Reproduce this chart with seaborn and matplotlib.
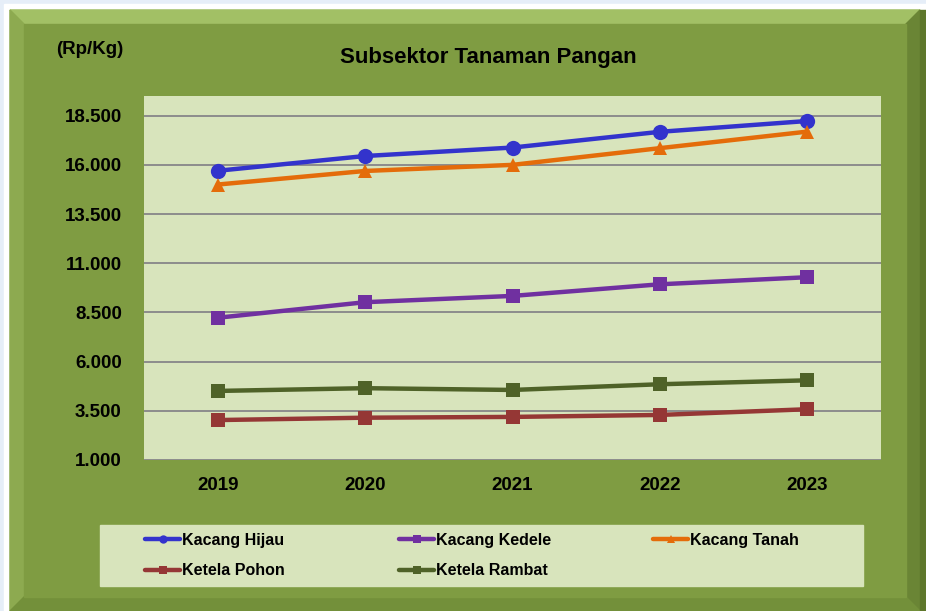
import numpy as np
import pandas as pd
import seaborn as sns
import matplotlib.pyplot as plt
from matplotlib.patches import Rectangle, Polygon
from matplotlib.lines import Line2D
from matplotlib.ticker import FuncFormatter

# ------------------------------------------------------------
# Data (Rp/Kg)
# ------------------------------------------------------------
years = ["2019", "2020", "2021", "2022", "2023"]
kacang_hijau = [15700, 16450, 16880, 17680, 18230]
kacang_kedele = [8230, 9020, 9340, 9930, 10290]
kacang_tanah = [15000, 15690, 16000, 16850, 17690]
ketela_pohon = [3030, 3150, 3190, 3290, 3580]
ketela_rambat = [4510, 4650, 4560, 4850, 5050]

series_names = ["Kacang Hijau", "Kacang Kedele", "Kacang Tanah", "Ketela Pohon", "Ketela Rambat"]
y_ticks = [1000, 3500, 6000, 8500, 11000, 13500, 16000, 18500]

colors = {
    "Kacang Hijau": "#3333CC",
    "Kacang Kedele": "#7030A0",
    "Kacang Tanah": "#E46C0A",
    "Ketela Pohon": "#953735",
    "Ketela Rambat": "#4F6228",
}
markers = {
    "Kacang Hijau": "o",
    "Kacang Kedele": "s",
    "Kacang Tanah": "^",
    "Ketela Pohon": "s",
    "Ketela Rambat": "s",
}
msizes = {"o": 11, "s": 9.5, "^": 10.5}

df = pd.DataFrame({
    "Tahun": years * 5,
    "Harga": kacang_hijau + kacang_kedele + kacang_tanah + ketela_pohon + ketela_rambat,
    "Komoditas": [n for n in series_names for _ in years],
})

sns.set_theme(style="white")
plt.rcParams["font.family"] = ["Liberation Sans", "DejaVu Sans"]
plt.rcParams["text.color"] = "black"

W, H = 926, 611
fig = plt.figure(figsize=(W / 100, H / 100), dpi=100)
fig.patch.set_facecolor("white")

# ------------------------------------------------------------
# Green bevelled frame
# ------------------------------------------------------------
bg = fig.add_axes([0, 0, 1, 1])
bg.set_xlim(0, W)
bg.set_ylim(H, 0)
bg.axis("off")
bg.add_patch(Rectangle((0, 0), W, H, color="#E6EEF8", zorder=0))
bg.add_patch(Rectangle((4, 4), W - 4, H - 4, color="white", zorder=0))
x0, y0, x1, y1, b = 10, 10, 920, 611, 14
bg.add_patch(Rectangle((x0, y0), x1 - x0, y1 - y0, color="#7F9C42", zorder=1))
bg.add_patch(Polygon([(x0, y0), (x1, y0), (x1 - b, y0 + b), (x0 + b, y0 + b)], color="#A2C065", zorder=2))
bg.add_patch(Polygon([(x0, y0), (x0 + b, y0 + b), (x0 + b, y1 - b), (x0, y1)], color="#8DAA50", zorder=2))
bg.add_patch(Polygon([(x1, y0), (x1, y1), (x1 - b, y1 - b), (x1 - b, y0 + b)], color="#6A8535", zorder=2))
bg.add_patch(Polygon([(x0, y1), (x1, y1), (x1 - b, y1 - b), (x0 + b, y1 - b)], color="#73903A", zorder=2))
bg.add_patch(Rectangle((x0 + b, y0 + b), x1 - x0 - 2 * b, y1 - y0 - 2 * b, color="#7F9C42", zorder=3))
bg.add_patch(Rectangle((x1, y0), W - x1, y1 - y0, color="#5E772B", zorder=2))
# legend box
bg.add_patch(Rectangle((100, 525), 763, 61, color="#D8E4BC", zorder=4))

# ------------------------------------------------------------
# Chart
# ------------------------------------------------------------
ax = fig.add_axes([144 / W, 1 - 460 / H, (881 - 144) / W, (460 - 96) / H])
ax.set_facecolor("#D8E4BC")

for name in series_names:
    sub = df[df["Komoditas"] == name]
    m = markers[name]
    sns.lineplot(data=sub, x="Tahun", y="Harga", ax=ax, color=colors[name],
                 linewidth=3.2, marker=m, markersize=msizes[m],
                 markeredgewidth=0, zorder=5, legend=False)

ax.set_xlim(-0.5, 4.5)
ax.set_ylim(1000, 19500)
ax.set_yticks(y_ticks)
ax.yaxis.set_major_formatter(FuncFormatter(lambda v, p: f"{int(v):,}".replace(",", ".")))
ax.grid(axis="y", color="#8C8C8C", linewidth=1.4)
ax.set_axisbelow(True)
for s in ax.spines.values():
    s.set_visible(False)
ax.tick_params(axis="y", length=0, pad=16, labelsize=13.5)
ax.tick_params(axis="x", length=0, pad=12, labelsize=13.5)
for lab in ax.get_xticklabels() + ax.get_yticklabels():
    lab.set_fontweight("bold")
    lab.set_color("black")
ax.set_xlabel("")
ax.set_ylabel("")

fig.text(488 / W, 1 - 57 / H, "Subsektor Tanaman Pangan", ha="center", va="center",
         fontsize=16, fontweight="bold", color="black")
fig.text(90 / W, 1 - 50 / H, "(Rp/Kg)", ha="center", va="center",
         fontsize=13.5, fontweight="bold", color="black")

# ------------------------------------------------------------
# Legend: one small legend per column
# ------------------------------------------------------------
handles = {n: Line2D([0], [0], color=colors[n], linewidth=3.2, marker=markers[n],
                     markersize=6, markeredgewidth=0) for n in series_names}
columns = [["Kacang Hijau", "Ketela Pohon"], ["Kacang Kedele", "Ketela Rambat"], ["Kacang Tanah"]]
col_x = [145, 399, 653]
for names, cx in zip(columns, col_x):
    fig.legend([handles[n] for n in names], names, loc="upper left",
               bbox_to_anchor=(cx / W, 1 - 533 / H), frameon=False,
               borderpad=0, borderaxespad=0, handlelength=2.2, handletextpad=0.1,
               labelspacing=0.95, labelcolor="black",
               prop={"family": "Liberation Sans", "weight": "bold", "size": 11.5})

fig.savefig("out.png", dpi=100)
